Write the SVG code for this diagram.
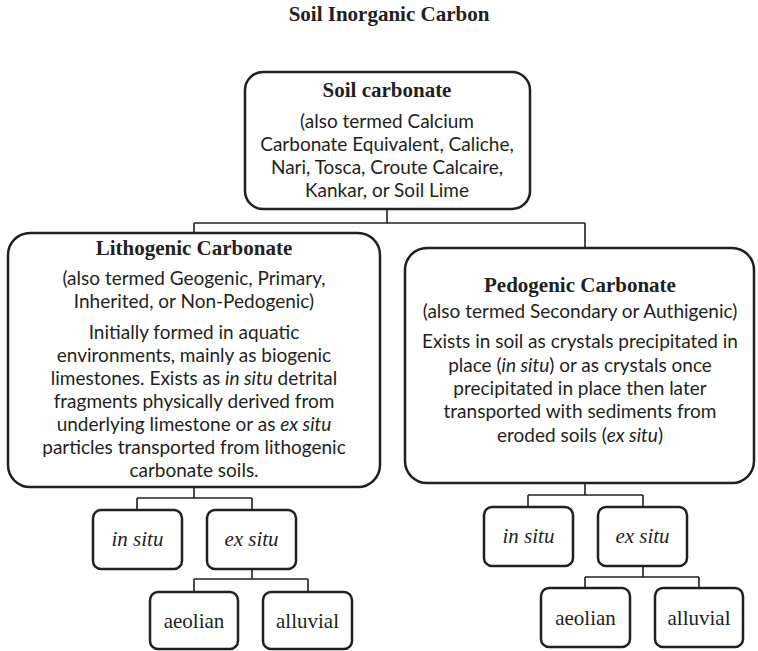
<svg xmlns="http://www.w3.org/2000/svg" width="758" height="651" viewBox="0 0 758 651">
<style>
.box{fill:#fff;stroke:#231f20;stroke-width:2.5}
.con{fill:none;stroke:#231f20;stroke-width:1.6}
.hd{font-family:"Liberation Serif","Times New Roman",serif;font-weight:bold;font-size:21px;fill:#231f20;text-anchor:middle}
.sm{font-family:"Liberation Serif","Times New Roman",serif;font-size:21px;fill:#231f20;text-anchor:middle}
.tx{font-family:Lato,"Liberation Sans",sans-serif;font-size:19px;fill:#231f20;text-anchor:middle}
.it{font-style:italic}
</style>
<rect width="758" height="651" fill="#fff"/>
<text class="hd" x="389" y="21">Soil Inorganic Carbon</text>
<g id="connectors">
<path class="con" d="M387 209V223M194 223H585M194 223V233M585 223V248"/>
<path class="con" d="M194 487V498M137 498H252M137 498V510M252 498V510"/>
<path class="con" d="M252 569V579M194 579H308M194 579V592M308 579V592"/>
<path class="con" d="M585 483V495M528 495H643M528 495V507M643 495V507"/>
<path class="con" d="M643 566V577M585 577H699M585 577V588M699 577V588"/>
</g>
<g id="soil-carbonate">
<rect class="box" x="245" y="72" width="285" height="137" rx="18"/>
<text class="hd" x="387" y="97">Soil carbonate</text>
<text class="tx" x="387" y="128">(also termed Calcium</text>
<text class="tx" x="387" y="151">Carbonate Equivalent, Caliche,</text>
<text class="tx" x="387" y="174">Nari, Tosca, Croute Calcaire,</text>
<text class="tx" x="387" y="197">Kankar, or Soil Lime</text>
</g>
<g id="lithogenic">
<rect class="box" x="8" y="233" width="372" height="254" rx="22"/>
<text class="hd" x="194" y="255">Lithogenic Carbonate</text>
<text class="tx" x="194" y="285">(also termed Geogenic, Primary,</text>
<text class="tx" x="194" y="308">Inherited, or Non-Pedogenic)</text>
<text class="tx" x="194" y="339">Initially formed in aquatic</text>
<text class="tx" x="194" y="362">environments, mainly as biogenic</text>
<text class="tx" x="194" y="385">limestones. Exists as <tspan class="it">in situ</tspan> detrital</text>
<text class="tx" x="194" y="408">fragments physically derived from</text>
<text class="tx" x="194" y="431">underlying limestone or as <tspan class="it">ex situ</tspan></text>
<text class="tx" x="194" y="454">particles transported from lithogenic</text>
<text class="tx" x="194" y="477">carbonate soils.</text>
</g>
<g id="pedogenic">
<rect class="box" x="405" y="248" width="349" height="235" rx="22"/>
<text class="hd" x="580" y="292">Pedogenic Carbonate</text>
<text class="tx" x="580" y="318">(also termed Secondary or Authigenic)</text>
<text class="tx" x="580" y="348">Exists in soil as crystals precipitated in</text>
<text class="tx" x="580" y="372">place (<tspan class="it">in situ</tspan>) or as crystals once</text>
<text class="tx" x="580" y="395">precipitated in place then later</text>
<text class="tx" x="580" y="418">transported with sediments from</text>
<text class="tx" x="580" y="442">eroded soils (<tspan class="it">ex situ</tspan>)</text>
</g>
<g id="litho-in-situ">
<rect class="box" x="93" y="510" width="89" height="59" rx="8"/>
<text class="sm it" x="137.5" y="546">in situ</text>
</g>
<g id="litho-ex-situ">
<rect class="box" x="207" y="510" width="89" height="59" rx="8"/>
<text class="sm it" x="251.5" y="546">ex situ</text>
</g>
<g id="litho-aeolian">
<rect class="box" x="150" y="592" width="88" height="57" rx="8"/>
<text class="sm" x="194" y="628">aeolian</text>
</g>
<g id="litho-alluvial">
<rect class="box" x="263" y="592" width="89" height="57" rx="8"/>
<text class="sm" x="307.5" y="628">alluvial</text>
</g>
<g id="pedo-in-situ">
<rect class="box" x="484" y="507" width="89" height="59" rx="8"/>
<text class="sm it" x="528.5" y="543">in situ</text>
</g>
<g id="pedo-ex-situ">
<rect class="box" x="598" y="507" width="89" height="59" rx="8"/>
<text class="sm it" x="642.5" y="543">ex situ</text>
</g>
<g id="pedo-aeolian">
<rect class="box" x="541" y="588" width="89" height="59" rx="8"/>
<text class="sm" x="585.5" y="625">aeolian</text>
</g>
<g id="pedo-alluvial">
<rect class="box" x="655" y="588" width="88" height="59" rx="8"/>
<text class="sm" x="699" y="625">alluvial</text>
</g>
</svg>
